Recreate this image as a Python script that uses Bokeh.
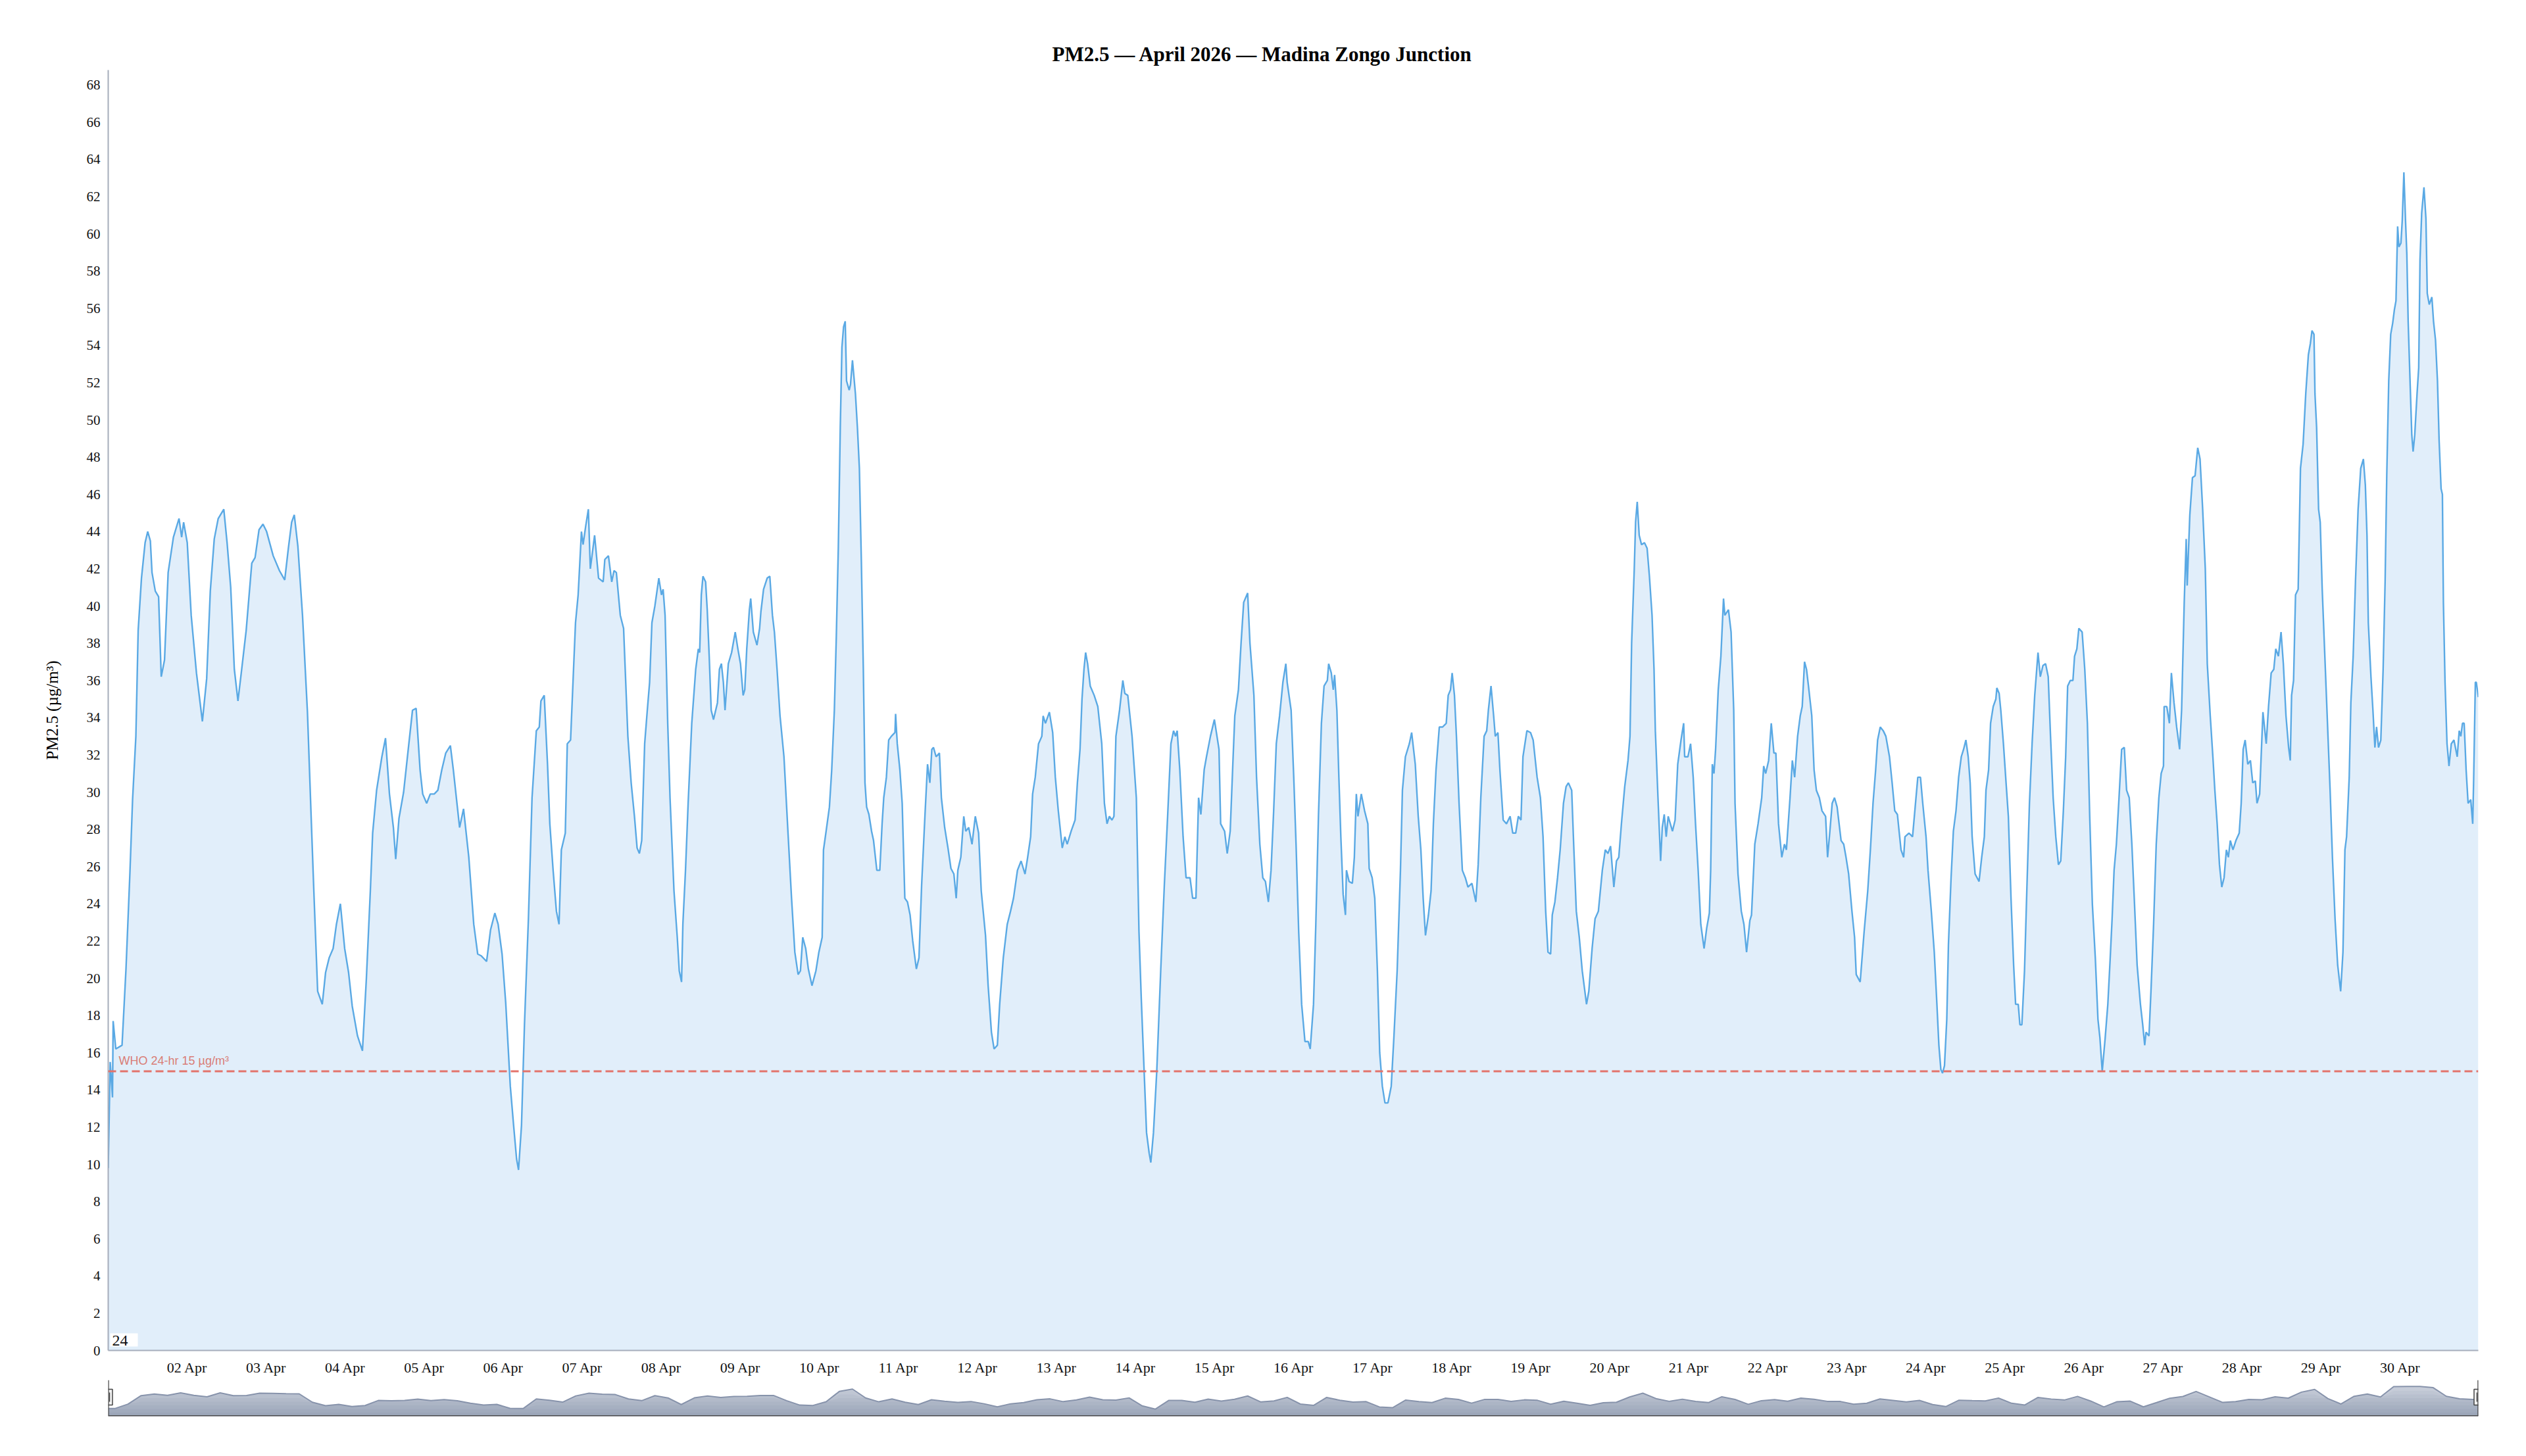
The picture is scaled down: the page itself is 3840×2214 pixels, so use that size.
import numpy as np
import pandas as pd
from bokeh.plotting import figure
from bokeh.models import (Range1d, FixedTicker, DatetimeTickFormatter, Span, Label,
                          ColumnDataSource)
from bokeh.layouts import column
from bokeh.embed import file_html
from bokeh.resources import INLINE

# ---------------- data ----------------
TITLE = "PM2.5 \u2014 April 2026 \u2014 Madina Zongo Junction"
Y_LABEL = "PM2.5 (\u00b5g/m\u00b3)"
START = "2026-04-01 00:00"
WHO_LIMIT = 15
WHO_TEXT = "WHO 24-hr 15 \u00b5g/m\u00b3"
WINDOW_TEXT = "24"
tick_days = list(range(2, 31))
y_ticks = list(range(0, 70, 2))

# hours since 1 Apr 00:00
hours = [
    0.0, 0.6, 1.3, 1.5, 2.3, 4.2, 5.4, 6.6, 7.4, 8.4, 9.1, 10.1, 11.2, 12.0, 12.8, 13.3, 14.3, 15.3, 16.1, 17.1,
    18.2, 19.8, 21.5, 22.3, 22.9, 24.0, 25.2, 26.8, 28.6, 29.9, 31.0, 32.2, 33.4, 35.1, 36.1, 37.2, 38.3, 39.4,
    40.4, 41.9, 42.7, 43.6, 44.6, 45.8, 47.0, 48.1, 50.1, 52.0, 53.6, 54.7, 55.7, 56.5, 57.6, 59.0, 60.5, 61.7,
    62.5, 63.6, 65.0, 66.0, 67.1, 68.3, 69.3, 70.5, 71.8, 73.0, 74.1, 75.7, 77.2, 78.4, 79.6, 80.3, 81.5, 83.1,
    84.2, 85.4, 86.6, 87.3, 88.3, 89.7, 90.8, 92.4, 93.5, 94.7, 95.5, 96.7, 97.8, 99.0, 100.1, 101.3, 102.5,
    103.9, 104.8, 106.7, 107.9, 109.5, 111.0, 112.2, 113.3, 114.9, 116.1, 117.4, 118.4, 119.6, 120.7,
    122.1, 123.1, 124.0, 124.6, 125.5, 126.4, 127.6, 128.7, 130.0, 130.9, 131.4, 132.4, 133.4, 134.1, 135.1,
    136.1, 136.9, 137.6, 138.8, 139.4, 140.4, 141.3, 141.9, 142.7, 143.7, 144.2, 145.0, 145.8, 146.4, 147.7,
    148.9, 150.3, 150.8, 151.9, 152.9, 153.6, 154.3, 155.5, 156.5, 157.8, 158.8, 159.8, 160.6, 161.3, 162.0,
    162.9, 163.7, 164.4, 165.1, 166.0, 167.2, 168.0, 168.5, 169.1, 169.9, 170.6, 171.8, 172.8, 173.4, 174.1,
    174.5, 175.3, 176.1, 177.2, 178.4, 179.2, 179.6, 180.1, 180.6, 181.4, 181.9, 182.5, 183.1, 183.8, 185.0,
    185.6, 186.2, 186.8, 187.3, 188.3, 189.3, 190.4, 191.2, 192.0, 192.8, 193.3, 193.9, 194.7, 195.1, 195.9,
    197.0, 197.8, 198.2, 199.0, 200.1, 200.9, 201.7, 202.3, 203.1, 204.0, 205.2, 206.4, 207.5, 208.5, 209.5,
    210.2, 210.9, 211.8, 212.6, 213.7, 214.9, 215.8, 216.8, 217.2, 218.0, 219.0, 219.7, 220.5, 221.1, 221.7,
    222.3, 222.8, 223.3, 223.8, 224.2, 225.0, 225.4, 226.0, 226.9, 227.5, 228.1, 228.7, 229.3, 229.8, 230.3,
    231.0, 231.8, 232.4, 233.4, 234.3, 235.0, 235.5, 236.3, 237.0, 237.8, 238.9, 239.1, 239.6, 240.4, 241.1,
    241.9, 242.7, 243.5, 244.3, 245.4, 246.2, 247.0, 248.0, 248.8, 249.5, 250.1, 250.6, 251.4, 252.4, 253.0,
    254.0, 255.0, 255.9, 256.8, 257.5, 258.0, 258.9, 259.8, 260.4, 261.3, 262.3, 263.3, 264.3, 265.1, 266.4,
    267.2, 268.2, 269.0, 270.0, 270.7, 271.8, 273.0, 274.0, 274.9, 276.1, 277.2, 278.4, 279.2, 280.1, 280.7,
    281.5, 282.5, 283.5, 283.9, 284.6, 285.8, 286.8, 287.6, 288.5, 289.7, 290.5, 291.2, 292.4, 293.6, 294.3,
    295.1, 295.7, 296.3, 296.8, 297.4, 298.2, 299.4, 300.5, 301.7, 302.5, 303.3, 304.0, 304.8, 305.4, 306.0,
    307.1, 308.1, 308.7, 309.6, 310.9, 312.2, 313.0, 313.7, 314.5, 315.3, 316.1, 316.6, 317.4, 318.4, 319.6,
    320.7, 321.7, 322.7, 323.5, 324.1, 324.6, 325.4, 326.4, 327.3, 328.5, 329.3, 330.3, 331.1, 331.8, 332.8,
    333.5, 334.7, 335.9, 337.3, 337.8, 339.0, 339.8, 340.7, 341.5, 342.1, 343.2, 344.0, 344.8, 346.0, 346.7,
    347.9, 348.7, 349.7, 350.6, 351.4, 352.3, 353.1, 353.9, 354.7, 355.7, 356.7, 357.6, 358.0, 359.2, 360.0,
    360.7, 361.5, 362.4, 363.4, 364.4, 365.0, 366.0, 366.7, 367.5, 368.4, 369.2, 370.2, 370.6, 371.4, 372.0,
    372.4, 373.1, 373.7, 374.3, 375.0, 375.7, 376.0, 376.8, 377.8, 378.4, 379.0, 379.5, 380.5, 381.5, 382.5,
    382.9, 383.8, 384.6, 385.4, 386.1, 386.9, 387.7, 388.6, 389.6, 390.4, 391.4, 392.4, 393.0, 393.9, 395.1,
    395.8, 396.9, 397.8, 398.6, 399.3, 400.0, 400.9, 401.7, 402.4, 403.2, 404.2, 405.2, 406.3, 406.9, 407.6,
    408.1, 408.8, 409.4, 410.2, 411.2, 412.1, 412.9, 414.1, 415.3, 416.0, 416.8, 417.8, 418.6, 419.1, 419.9,
    420.7, 421.2, 422.0, 422.6, 423.6, 424.6, 425.7, 426.5, 427.4, 428.2, 429.0, 429.6, 430.8, 431.9, 432.7,
    433.9, 434.9, 435.7, 436.5, 437.2, 438.0, 438.5, 439.3, 440.1, 440.9, 441.9, 442.7, 443.4, 444.4, 445.0,
    445.8, 446.7, 447.6, 448.9, 449.6, 450.6, 451.5, 452.5, 453.7, 454.6, 455.4, 456.2, 457.2, 458.0, 458.7,
    459.5, 460.5, 461.5, 462.1, 462.6, 463.4, 463.8, 464.3, 464.9, 465.6, 466.5, 467.3, 468.0, 468.8, 469.4,
    469.8, 470.6, 471.4, 471.9, 472.5, 473.1, 473.7, 475.0, 475.8, 476.6, 477.6, 478.4, 478.7, 479.7, 480.5,
    481.3, 482.0, 482.8, 483.6, 484.6, 485.4, 486.2, 486.6, 487.1, 487.6, 488.1, 488.9, 489.7, 490.5, 490.9,
    492.0, 492.8, 493.6, 494.0, 494.9, 495.9, 496.7, 497.5, 498.5, 499.0, 500.0, 501.0, 502.1, 502.7, 503.3,
    504.2, 505.0, 505.8, 506.4, 507.2, 508.2, 509.0, 509.6, 510.7, 511.4, 512.1, 513.0, 513.8, 514.4, 515.1,
    515.7, 516.3, 517.3, 518.0, 518.7, 519.6, 520.4, 521.5, 522.1, 522.8, 523.5, 524.2, 525.0, 526.2, 527.0,
    527.7, 528.5, 529.5, 530.3, 530.8, 532.0, 533.2, 534.3, 535.1, 535.9, 536.7, 537.3, 538.1, 539.0, 539.8,
    540.9, 541.7, 542.5, 543.3, 544.4, 545.2, 545.6, 546.8, 547.9, 548.7, 549.5, 550.3, 551.0, 552.0, 552.6,
    553.6, 554.5, 555.3, 555.9, 556.5, 557.0, 557.6, 558.3, 558.8, 559.6, 560.3, 561.1, 561.9, 562.7, 563.4,
    564.1, 564.8, 565.4, 566.0, 566.9, 568.1, 568.9, 569.7, 570.2, 571.0, 571.6, 572.4, 573.2, 573.5, 574.2,
    574.7, 575.5, 576.3, 577.0, 577.8, 578.6, 579.2, 580.0, 580.5, 581.1, 581.9, 582.6, 583.4, 584.2, 585.0,
    586.0, 586.7, 587.5, 588.3, 589.1, 589.8, 590.6, 591.4, 592.2, 592.9, 593.7, 594.4, 595.0, 595.8, 596.6,
    597.1, 597.8, 598.4, 599.4, 600.2, 601.0, 601.7, 602.5, 603.4, 604.2, 604.8, 605.5, 606.4, 607.2, 607.9,
    608.5, 609.1, 609.8, 610.6, 611.4, 612.2, 612.9, 613.7, 614.5, 615.3, 616.1, 617.1, 617.8, 618.4, 618.8,
    619.7, 620.3, 621.1, 621.9, 622.7, 623.4, 624.1, 624.3, 625.1, 625.9, 626.5, 627.3, 628.1, 629.0, 629.6,
    630.4, 631.0, 631.3, 632.1, 632.9, 633.7, 634.5, 635.2, 636.0, 636.8, 637.4, 638.3, 639.1, 639.7, 640.4,
    641.1, 641.8, 642.5, 643.2, 643.8, 644.4, 645.2, 646.1, 647.1, 647.7, 648.3, 648.9, 649.7, 650.5, 651.2,
    652.0, 652.5, 653.3, 654.3, 655.3, 656.0, 656.8, 657.6, 658.2, 659.0, 659.8, 660.5, 661.3, 662.1, 662.6,
    663.0, 663.6, 664.2, 665.0, 665.7, 666.5, 667.3, 668.1, 668.7, 669.2, 669.8, 670.1, 670.6, 671.2, 671.7,
    672.3, 673.1, 673.9, 674.7, 675.4, 676.2, 677.0, 677.9, 678.6, 679.2, 679.7, 680.5, 681.0, 681.7, 682.4,
    683.2, 684.0, 684.8, 685.4, 685.9, 686.3, 687.1, 687.7, 688.3, 688.8, 689.4, 690.1, 690.8, 691.4, 691.9,
    692.5, 693.1, 693.7, 694.2, 694.7, 695.2, 695.6, 696.2, 696.6, 697.1, 697.6, 698.0, 698.4, 698.9, 699.5,
    699.9, 700.4, 701.1, 701.6, 702.0, 702.5, 703.2, 703.8, 704.2, 704.8, 705.6, 706.1, 706.7, 707.3, 707.8,
    708.4, 708.8, 709.1, 709.6, 710.2, 710.8, 711.5, 712.3, 713.3, 713.9, 714.4, 714.9, 715.4, 716.0, 716.6,
    717.4, 718.0, 718.3, 718.8, 719.1, 719.7,
]

pm25 = [
    9.8, 15.5, 13.6, 17.7, 16.2, 16.4, 20.5, 25.7, 29.6, 33.0, 38.7, 41.5, 43.4, 44.0, 43.5, 41.8, 40.8, 40.5, 36.2, 37.1,
    41.8, 43.7, 44.7, 43.7, 44.5, 43.4, 39.5, 36.4, 33.8, 36.1, 40.8, 43.6, 44.7, 45.2, 43.4, 41.0, 36.6, 34.9,
    36.4, 38.7, 40.4, 42.3, 42.6, 44.1, 44.4, 44.0, 42.7, 41.9, 41.4, 43.1, 44.5, 44.9, 43.2, 39.5, 34.3, 28.3,
    24.4, 19.3, 18.6, 20.3, 21.1, 21.6, 22.9, 24.0, 21.6, 20.3, 18.5, 16.9, 16.1, 20.0, 24.7, 27.8, 30.1, 31.9,
    32.9, 29.9, 28.1, 26.4, 28.6, 30.0, 31.8, 34.4, 34.5, 31.2, 29.9, 29.4, 29.9, 29.9, 30.1, 31.2, 32.1,
    32.5, 31.2, 28.1, 29.1, 26.5, 22.9, 21.3, 21.2, 20.9, 22.6, 23.5, 22.9, 21.3, 18.7,
    14.2, 12.1, 10.3, 9.7, 12.1, 17.5, 23.2, 29.7, 33.3, 33.5, 34.9, 35.2, 31.5, 28.3, 25.8,
    23.6, 22.9, 26.9, 27.8, 32.6, 32.8, 36.6, 39.1, 40.6, 44.0, 43.3, 44.3, 45.2, 42.0, 43.8,
    41.5, 41.3, 42.5, 42.7, 41.3, 41.9, 41.8, 39.5, 38.8, 33.0, 30.5, 28.7, 27.0, 26.7, 27.4,
    32.6, 34.4, 35.9, 39.1, 40.0, 41.5, 40.6, 40.9, 39.5, 33.7, 29.7, 24.7, 22.2, 20.4, 19.8,
    22.9, 25.8, 29.4, 33.7, 36.6, 37.7, 37.5, 40.6, 41.6, 41.3, 39.8, 37.3, 34.4, 33.9, 34.8,
    36.6, 36.9, 35.9, 34.4, 36.9, 37.5, 38.6, 37.7, 36.9, 35.2, 35.5, 37.7, 39.8, 40.4, 38.6,
    37.9, 38.8, 39.7, 40.9, 41.5, 41.6, 39.5, 38.6, 36.6, 34.1, 31.9, 27.9, 24.3, 21.4, 20.2,
    20.4, 22.2, 21.6, 20.5, 19.6, 20.4, 21.4, 22.2, 26.9, 27.9, 29.2, 31.2, 34.4, 38.4, 43.1,
    49.6, 53.9, 55.0, 55.3, 52.1, 51.6, 51.9, 53.2, 51.4, 49.6, 47.4, 42.4, 36.6, 30.5, 29.2,
    28.8, 27.9, 27.4, 25.8, 25.8, 28.3, 29.7, 30.8, 32.8, 33.0, 33.2, 34.2, 32.6, 31.2, 29.4,
    24.3, 24.1, 23.4, 22.0, 20.5, 21.1, 25.0, 28.7, 31.5, 30.5, 32.3, 32.4, 31.9, 32.1, 29.7,
    28.1, 27.0, 25.9, 25.6, 24.3, 25.8, 26.5, 28.7, 27.9, 28.1, 27.2, 28.7, 27.8, 24.7, 22.3,
    19.6, 17.1, 16.2, 16.4, 18.6, 21.1, 22.9, 23.6, 24.3, 25.8, 26.3, 25.6, 26.5, 27.6, 29.9,
    30.8, 32.6, 33.0, 34.1, 33.7, 34.3, 33.2, 30.8, 29.0, 27.0, 27.6, 27.2, 27.9, 28.5, 30.5,
    32.3, 35.0, 36.6, 37.5, 36.9, 35.7, 35.2, 34.6, 32.6, 29.4, 28.3, 28.7, 28.5, 28.7, 33.0,
    34.4, 36.0, 35.3, 35.2, 33.0, 29.7, 22.5, 18.9, 15.3, 11.7, 10.6, 10.1, 11.7, 15.0, 20.4,
    25.0, 28.7, 32.6, 33.3, 33.0, 33.3, 31.2, 27.6, 25.4, 25.4, 24.3, 24.3, 29.7, 28.8, 31.2,
    31.9, 33.0, 33.9, 32.3, 28.3, 27.9, 26.7, 27.9, 31.5, 34.1, 35.5, 38.0, 40.2, 40.7, 38.0,
    35.2, 30.8, 27.2, 25.4, 25.2, 24.1, 25.8, 29.0, 32.6, 34.1, 35.9, 36.9, 35.9, 34.4, 30.8,
    27.2, 22.5, 18.6, 16.6, 16.6, 16.2, 18.6, 22.9, 28.7, 33.7, 35.7, 36.0, 36.9, 36.4, 35.5,
    36.3, 34.4, 30.8, 27.6, 24.5, 23.4, 25.8, 25.2, 25.1, 26.5, 29.9, 28.7, 29.9, 29.0, 28.3,
    25.9, 25.4, 24.3, 20.4, 16.0, 14.2, 13.3, 13.3, 14.2, 16.8, 20.4, 25.8, 30.1, 31.9, 32.6,
    33.2, 31.5, 28.7, 26.9, 24.3, 22.3, 23.4, 24.7, 28.3, 31.2, 33.5, 33.5, 33.7, 35.2, 35.5,
    36.4, 35.2, 33.0, 29.4, 25.8, 25.4, 24.9, 25.1, 24.1, 26.1, 29.7, 33.0, 33.3, 34.4, 35.7,
    34.1, 33.0, 33.2, 31.2, 28.5, 28.3, 28.7, 27.8, 27.8, 28.7, 28.5, 31.9, 33.3, 33.2, 32.8,
    30.8, 29.7, 27.6, 23.6, 21.4, 21.3, 23.4, 24.1, 25.4, 26.9, 29.4, 30.3, 30.5, 30.1, 27.2,
    23.6, 22.2, 20.4, 18.6, 19.3, 21.6, 23.2, 23.6, 25.8, 26.9, 26.7, 27.1, 24.9, 26.3, 26.5,
    28.3, 30.3, 31.7, 33.0, 38.0, 42.0, 44.5, 45.6, 43.8, 43.3, 43.4, 43.1, 41.6, 39.5, 36.6,
    33.3, 29.7, 26.3, 28.1, 28.8, 27.6, 28.7, 27.9, 28.5, 31.5, 32.8, 33.7, 31.9, 31.9, 32.6,
    30.8, 28.3, 25.8, 22.9, 21.6, 22.7, 23.5, 25.8, 31.5, 31.0, 32.3, 35.5, 37.3, 40.4, 39.5,
    39.8, 38.6, 34.4, 29.4, 25.6, 23.6, 22.9, 21.4, 23.1, 23.4, 27.2, 28.3, 29.7, 31.4, 31.0,
    31.7, 33.7, 32.1, 32.1, 28.3, 26.5, 27.2, 26.9, 29.7, 31.7, 30.8, 33.0, 34.1, 34.6, 37.0,
    36.6, 35.7, 34.1, 31.2, 30.1, 29.7, 29.0, 28.7, 26.5, 27.9, 29.4, 29.7, 29.2, 27.4, 27.2,
    26.5, 25.6, 23.6, 22.2, 20.2, 19.8, 22.5, 24.7, 26.9, 29.4, 31.2, 32.8, 33.5, 33.3, 33.0,
    31.9, 30.5, 29.0, 28.8, 26.9, 26.5, 27.6, 27.8, 27.6, 29.2, 30.8, 30.8, 29.4, 27.6, 25.8,
    23.6, 21.4, 18.6, 16.4, 15.1, 14.9, 15.3, 17.8, 21.8, 25.4, 27.9, 29.0, 30.8, 31.9, 32.3,
    32.8, 31.9, 30.5, 27.6, 25.6, 25.2, 26.5, 27.6, 30.1, 31.2, 33.7, 34.6, 35.0, 35.6, 35.3,
    34.4, 32.6, 30.5, 28.7, 24.3, 20.7, 18.6, 18.6, 17.5, 17.5, 20.4, 24.7, 29.4, 32.6, 35.2,
    37.5, 36.2, 36.8, 36.9, 36.2, 33.0, 29.7, 27.6, 26.1, 26.3, 29.0, 31.9, 35.7, 36.0, 36.0,
    37.3, 37.7, 38.8, 38.6, 36.6, 33.7, 28.7, 24.0, 21.1, 17.8, 16.8, 15.0, 16.8, 18.6, 21.0,
    23.2, 25.8, 27.2, 29.7, 32.3, 32.4, 30.1, 29.7, 27.2, 24.0, 20.7, 18.6, 17.5, 16.4, 17.1,
    16.9, 19.3, 22.9, 27.2, 29.7, 31.0, 31.4, 34.6, 34.6, 33.7, 36.4, 34.8, 33.5, 32.3, 34.4,
    40.2, 43.6, 41.1, 44.9, 46.9, 47.0, 48.5, 47.9, 45.2, 42.0, 36.9, 34.1, 31.9, 30.1, 28.3,
    26.1, 24.9, 25.4, 26.9, 26.5, 27.4, 26.9, 27.4, 27.8, 29.4, 32.3, 32.8, 31.5, 31.7, 30.5,
    30.6, 29.4, 29.9, 34.3, 32.6, 34.6, 36.4, 36.6, 37.7, 37.3, 38.6, 36.9, 34.1, 32.4, 31.7,
    35.2, 36.0, 40.6, 40.9, 47.4, 48.7, 51.4, 53.5, 54.1, 54.8, 54.6, 51.4, 49.6, 45.2, 44.5,
    40.9, 37.3, 33.7, 30.1, 26.5, 23.2, 20.7, 19.3, 21.4, 26.9, 27.6, 30.8, 34.8, 37.3, 41.3,
    45.2, 47.4, 47.9, 46.5, 43.8, 39.1, 36.2, 34.4, 32.4, 33.5, 32.4, 32.8, 36.6, 41.3, 47.0,
    52.1, 54.6, 55.2, 55.9, 56.4, 60.4, 59.3, 59.5, 60.7, 63.3, 60.7, 58.9, 55.3, 52.5, 49.2,
    48.3, 49.2, 51.4, 52.8, 58.6, 61.1, 62.5, 60.8, 56.8, 56.2, 56.6, 55.3, 54.3, 52.1, 48.9,
    46.3, 46.0, 40.2, 35.9, 32.6, 31.4, 32.6, 32.8, 31.9, 33.3, 33.0, 33.7, 33.7, 31.2, 29.4,
    29.6, 28.3, 30.8, 35.9, 35.9, 35.1,
]

# ---------------- derived ----------------
t0 = pd.Timestamp(START)
times = t0 + pd.to_timedelta(hours, unit="h")
src = ColumnDataSource(dict(t=times, v=pm25))

x_start = times[0].value / 1e6
x_end = times[-1].value / 1e6
Y_MAX = 68.8
x_range = Range1d(x_start, x_end)

FRAME_L, FRAME_R = 164, 41
W = 3808
FRAME_W = W - FRAME_L - FRAME_R
SERIF = "Liberation Serif"

# ---------------- main chart ----------------
p = figure(width=W, height=2094, x_range=x_range, y_range=Range1d(0, Y_MAX),
           x_axis_type="datetime", output_backend="svg", toolbar_location=None,
           min_border_left=FRAME_L, min_border_right=FRAME_R,
           min_border_top=106, min_border_bottom=37)
p.outline_line_color = None
p.background_fill_color = "white"
p.xgrid.visible = False
p.ygrid.visible = False

p.title.text = TITLE
p.title.align = "left"
p.title.offset = 1435
p.title.text_font = SERIF
p.title.text_font_size = "31px"
p.title.text_font_style = "bold"
p.title.text_color = "#000000"
p.title.standoff = 14

p.varea(x="t", y1=0, y2="v", source=src, fill_color="#e1eefa", fill_alpha=1.0)
p.line(x="t", y="v", source=src, line_color="#5aa9e4", line_width=2.4)

p.add_layout(Span(location=WHO_LIMIT, dimension="width", line_color="#e3736b",
                  line_dash="12 6", line_width=3))
p.add_layout(Label(x=x_start, y=WHO_LIMIT, x_offset=16, y_offset=6, text=WHO_TEXT,
                   text_font="Liberation Sans", text_font_size="18px",
                   text_color="#d97d76", text_baseline="bottom", text_align="left"))
p.add_layout(Label(x=x_start, y=0, x_offset=3, y_offset=6, text=WINDOW_TEXT,
                   text_font=SERIF, text_font_size="24px", text_color="#111111",
                   text_baseline="bottom", text_align="left",
                   background_fill_color="white", padding=(3, 15, 3, 2)))

xa = p.xaxis[0]
xa.ticker = FixedTicker(ticks=[(t0 + pd.Timedelta(days=d - 1)).value / 1e6 for d in tick_days])
fmt = "%d %b"
xa.formatter = DatetimeTickFormatter(days=fmt, months=fmt, years=fmt, hours=fmt,
                                     hourmin=fmt, minutes=fmt, minsec=fmt, seconds=fmt,
                                     milliseconds=fmt, microseconds=fmt)
ya = p.yaxis[0]
ya.ticker = FixedTicker(ticks=y_ticks)
ya.axis_label = Y_LABEL
ya.axis_label_text_font = SERIF
ya.axis_label_text_font_size = "25px"
ya.axis_label_text_font_style = "normal"
ya.axis_label_text_color = "#000000"
ya.axis_label_standoff = 36
for ax in (xa, ya):
    ax.axis_line_color = "#a6adbb"
    ax.axis_line_width = 2
    ax.major_tick_line_color = None
    ax.minor_tick_line_color = None
    ax.major_label_text_font = SERIF
    ax.major_label_text_color = "#111111"
    ax.major_label_standoff = 7
xa.major_label_text_font_size = "22px"
ya.major_label_text_font_size = "21px"
ya.major_label_standoff = 6

# ---------------- navigator ----------------
NAV_H = 55
nav_df = (pd.DataFrame({"t": times, "v": pm25}).set_index("t")
          .resample("4h").mean().dropna())
nav_t = list(nav_df.index + pd.Timedelta(hours=2))
nav_v = list(nav_df["v"].values)
nav_t = [pd.Timestamp(x_start, unit="ms")] + nav_t + [pd.Timestamp(x_end, unit="ms")]
nav_v = [nav_v[0]] + nav_v + [nav_v[-1]]
nav_v = np.array(nav_v)

n = figure(width=W, height=4 + NAV_H + 12, x_range=x_range, y_range=Range1d(0, Y_MAX),
           x_axis_type=None, y_axis_type=None, output_backend="svg",
           toolbar_location=None, min_border_left=FRAME_L, min_border_right=FRAME_R,
           min_border_top=4, min_border_bottom=12)
n.outline_line_color = None
n.xgrid.visible = False
n.ygrid.visible = False

nsrc = ColumnDataSource(dict(t=nav_t, v=nav_v))
n.varea(x="t", y1=0, y2="v", source=nsrc, fill_color="#dfe2ea")
for lvl in np.linspace(0, Y_MAX, 11)[1:]:
    n.varea(x=nav_t, y1=0, y2=np.minimum(nav_v, lvl), fill_color="#56678a", fill_alpha=0.06)
n.line(x="t", y="v", source=nsrc, line_color="#8793ab", line_width=2)

for loc in (x_start, x_end):
    n.add_layout(Span(location=loc, dimension="height", line_color="#4a4a4a", line_width=2.5))
n.add_layout(Span(location=0, dimension="width", line_color="#4a4a4a", line_width=3))

ms_per_px = (x_end - x_start) / FRAME_W
val_per_px = Y_MAX / NAV_H
hy = Y_MAX - 26 * val_per_px
n.rect(x=[x_start, x_end], y=[hy, hy], width=13, height=24, width_units="screen",
       height_units="screen", fill_color="#f2f2f2", line_color="#444444", line_width=1.5)
for loc in (x_start, x_end):
    n.segment(x0=[loc - 2 * ms_per_px, loc + 2 * ms_per_px],
              y0=[hy - 7 * val_per_px] * 2,
              x1=[loc - 2 * ms_per_px, loc + 2 * ms_per_px],
              y1=[hy + 7 * val_per_px] * 2,
              line_color="#444444", line_width=1.5)

layout = column(p, n, spacing=0)
open("out.html", "w").write(file_html(layout, INLINE))
